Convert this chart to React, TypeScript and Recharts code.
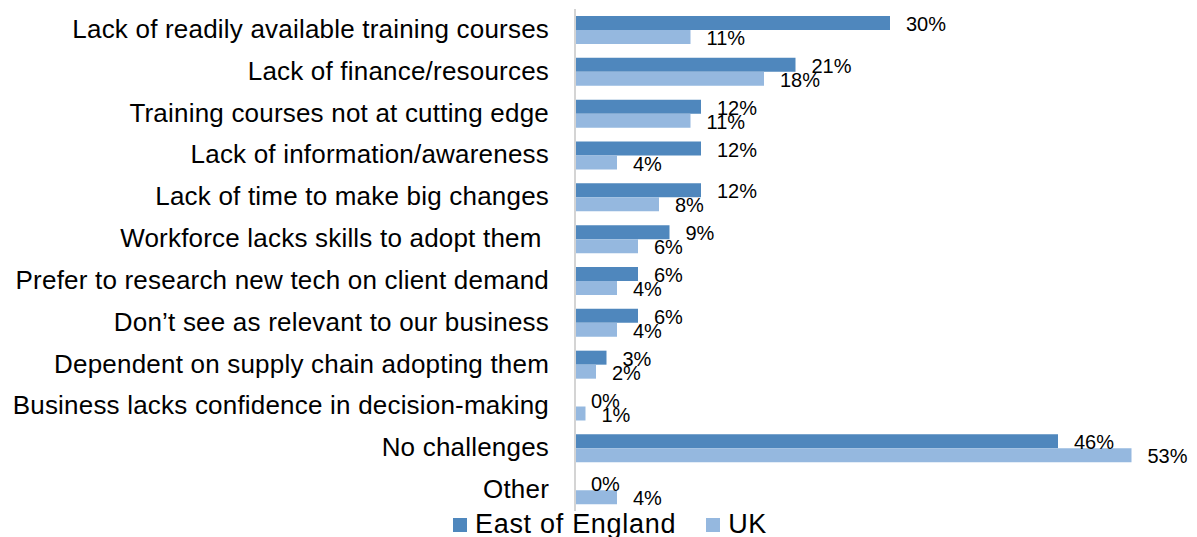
import { BarChart, Bar, XAxis, YAxis, Legend, LabelList } from 'recharts';

const categories = [
  'Lack of readily available training courses',
  'Lack of finance/resources',
  'Training courses not at cutting edge',
  'Lack of information/awareness',
  'Lack of time to make big changes',
  'Workforce lacks skills to adopt them ',
  'Prefer to research new tech on client demand',
  'Don\u2019t see as relevant to our business',
  'Dependent on supply chain adopting them',
  'Business lacks confidence in decision-making',
  'No challenges',
  'Other',
];
const eastOfEngland = [30, 21, 12, 12, 12, 9, 6, 6, 3, 0, 46, 0];
const uk = [11, 18, 11, 4, 8, 6, 4, 4, 2, 1, 53, 4];

const DARK = '#4F87BD';
const LIGHT = '#95B8DF';
const FONT = '"Liberation Sans", Arial, sans-serif';

const data = categories.map((name, i) => ({ name, east: eastOfEngland[i], uk: uk[i] }));

function CategoryTick(props: any) {
  const { x, y, payload } = props;
  return (
    <text x={x - 18} y={y + 8} textAnchor="end" fontSize={26} fill="#000" fontFamily={FONT} letterSpacing={0.2} style={{ whiteSpace: 'pre' }}>
      {payload.value}
    </text>
  );
}

// value label drawn just right of the bar end, including zero-length bars
function ValueLabel(props: any) {
  const { x, y, width, height, value } = props;
  return (
    <text x={x + width + 16} y={y + height / 2 + 8} fontSize={20} fill="#000" fontFamily={FONT}>
      {`${value}%`}
    </text>
  );
}

function LegendBox() {
  const item = (color: string, label: string, gapAfter: number) => (
    <div style={{ display: 'flex', alignItems: 'center', marginRight: gapAfter }}>
      <div style={{ width: 14, height: 14, background: color, marginRight: 8, marginTop: 2 }} />
      <span style={{ fontSize: 27, letterSpacing: 0.7, color: '#000' }}>{label}</span>
    </div>
  );
  return (
    <div style={{ display: 'flex', height: 26, lineHeight: '26px', paddingLeft: 453, fontFamily: FONT, overflow: 'visible' }}>
      {item(DARK, 'East of England', 30)}
      {item(LIGHT, 'UK', 0)}
    </div>
  );
}

export default function App() {
  return (
    <div style={{ position: 'absolute', left: 0, top: 0, background: '#fff' }}>
      <BarChart
        width={1197}
        height={537}
        data={data}
        layout="vertical"
        margin={{ top: 9, right: 13, bottom: 0, left: 0 }}
        barSize={14}
        barGap={0}
      >
        <XAxis type="number" domain={[0, 58]} hide />
        <YAxis
          type="category"
          dataKey="name"
          width={575}
          axisLine={{ stroke: '#D4D4D4', strokeWidth: 2 }}
          tickLine={false}
          tick={<CategoryTick />}
          interval={0}
        />
        <Legend verticalAlign="bottom" align="left" content={() => <LegendBox />} />
        <Bar dataKey="east" name="East of England" fill={DARK} minPointSize={0.01} isAnimationActive={false}>
          <LabelList dataKey="east" content={<ValueLabel />} />
        </Bar>
        <Bar dataKey="uk" name="UK" fill={LIGHT} minPointSize={0.01} isAnimationActive={false}>
          <LabelList dataKey="uk" content={<ValueLabel />} />
        </Bar>
      </BarChart>
    </div>
  );
}
